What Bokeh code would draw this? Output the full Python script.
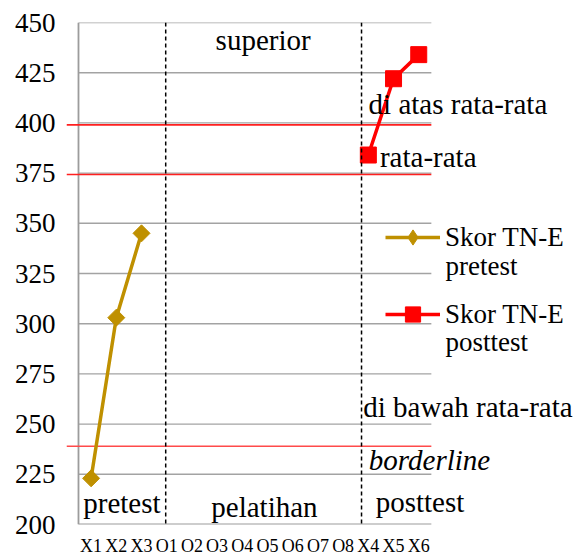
import math
from bokeh.plotting import figure
from bokeh.models import Range1d, FixedTicker, Span, Legend, LegendItem
from bokeh.core.properties import value
from bokeh.embed import file_html
from bokeh.resources import INLINE

# ---- data ----
categories = ["X1", "X2", "X3", "O1", "O2", "O3", "O4", "O5", "O6", "O7", "O8", "X4", "X5", "X6"]
pretest_cats = ["X1", "X2", "X3"]
pretest_scores = [223, 303, 345]
posttest_cats = ["X4", "X5", "X6"]
posttest_scores = [384, 422, 434]
y_ticks = [200, 225, 250, 275, 300, 325, 350, 375, 400, 425, 450]
reference_levels = [399, 374.3, 239]          # red category boundaries
reference_colors = ["#ff1f1f", "#ff1f1f", "#ff4a4a"]
phase_boundaries = [3.46, 11.23]              # dashed separators (category units)

# region labels: text, x (category units), y (score)
region_texts = ["superior", "di atas rata-rata", "rata-rata", "di bawah rata-rata", "pretest", "pelatihan", "posttest"]
region_x = [5.44, 11.51, 11.96, 11.30, 0.19, 5.27, 11.79]
region_y = [441.5, 409.4, 383.0, 258.5, 210.5, 208.8, 211.3]
italic_texts = ["borderline"]
italic_x = [11.52]
italic_y = [232.1]
legend_names = ["Skor TN-E", "Skor TN-E"]
legend_sub = ["pretest", "posttest"]
legend_sub_x = [14.56, 14.56]
legend_sub_y = [328.9, 290.9]

FONT = "Liberation Serif"
QFONT = "'Liberation Serif'"
n = len(categories)
x_start, x_end = -0.476, 19.68

p = figure(width=574, height=558, output_backend="svg", toolbar_location=None,
           x_range=Range1d(x_start, x_end), y_range=Range1d(y_ticks[0], y_ticks[-1]),
           min_border_left=66, min_border_right=0, min_border_top=22, min_border_bottom=31)
p.outline_line_color = None
p.xgrid.visible = False
p.ygrid.visible = False
p.background_fill_color = "white"

# axes
p.yaxis.ticker = FixedTicker(ticks=y_ticks)
p.yaxis.axis_line_color = None
p.yaxis.major_tick_line_color = None
p.yaxis.minor_tick_line_color = None
p.yaxis.major_tick_out = 0
p.yaxis.major_label_standoff = 11
p.yaxis.major_label_text_font = QFONT
p.yaxis.major_label_text_font_size = "27px"
p.yaxis.major_label_text_color = "black"

xpos = [i + 0.5 for i in range(n)]
p.xaxis.ticker = FixedTicker(ticks=xpos)
p.xaxis.major_label_overrides = {x: c for x, c in zip(xpos, categories)}
p.xaxis.axis_line_color = None
p.xaxis.major_tick_line_color = None
p.xaxis.minor_tick_line_color = None
p.xaxis.major_tick_out = 0
p.xaxis.major_label_standoff = 11
p.xaxis.major_label_text_font = QFONT
p.xaxis.major_label_text_font_size = "18px"
p.xaxis.major_label_text_color = "black"

# gridlines and axis lines
grid_vals = y_ticks[1:]
p.segment(x0=[0] * len(grid_vals), x1=[n] * len(grid_vals), y0=grid_vals, y1=grid_vals,
          line_color="#a3a3a3", line_width=1.4)
p.segment(x0=[0, 0], y0=[y_ticks[0], y_ticks[0]], x1=[0, n], y1=[y_ticks[-1], y_ticks[0]],
          line_color="#9c9c9c", line_width=1.8)

# red reference lines
p.segment(x0=[x_start] * len(reference_levels), x1=[n] * len(reference_levels),
          y0=reference_levels, y1=reference_levels, line_color=reference_colors, line_width=1.6)

# dashed phase separators
for b in phase_boundaries:
    p.add_layout(Span(location=b, dimension="height", line_color="black",
                      line_width=1.5, line_dash="4 3"))

# series
pre_x = [categories.index(c) + 0.5 for c in pretest_cats]
post_x = [categories.index(c) + 0.5 for c in posttest_cats]
gold = "#bf9000"
red = "#ff0000"
l1 = p.line(pre_x, pretest_scores, line_color=gold, line_width=3.5)
s1 = p.scatter(pre_x, pretest_scores, marker="square", angle=math.pi / 4, size=12,
               fill_color=gold, line_color=gold)
l2 = p.line(post_x, posttest_scores, line_color=red, line_width=3.5)
s2 = p.scatter(post_x, posttest_scores, marker="square", size=16, fill_color=red, line_color=red)
# hidden diamond version of the pretest markers, used only for the legend swatch
d1 = p.scatter(pre_x, pretest_scores, marker="diamond", fill_color=gold, line_color=gold, visible=False)

# texts
p.text(x=region_x, y=region_y, text=region_texts, text_font=value(FONT), text_font_size="29px",
       text_baseline="alphabetic", text_align="left", text_color="black")
p.text(x=italic_x, y=italic_y, text=italic_texts, text_font=value(FONT), text_font_size="29px",
       text_font_style="italic", text_baseline="alphabetic", text_align="left", text_color="black")
p.text(x=legend_sub_x, y=legend_sub_y, text=legend_sub, text_font=value(FONT), text_font_size="27px",
       text_baseline="alphabetic", text_align="left", text_color="black")

legend = Legend(items=[LegendItem(label=legend_names[0], renderers=[l1, d1]),
                       LegendItem(label=legend_names[1], renderers=[l2, s2])],
                location=(319, 191), glyph_width=55, glyph_height=38, label_standoff=5,
                padding=0, margin=0, spacing=39, border_line_color=None,
                background_fill_alpha=0, inactive_fill_alpha=0,
                label_text_font=QFONT, label_text_font_size="27px",
                label_text_color="black")
p.add_layout(legend)

open("out.html", "w").write(file_html(p, INLINE))
